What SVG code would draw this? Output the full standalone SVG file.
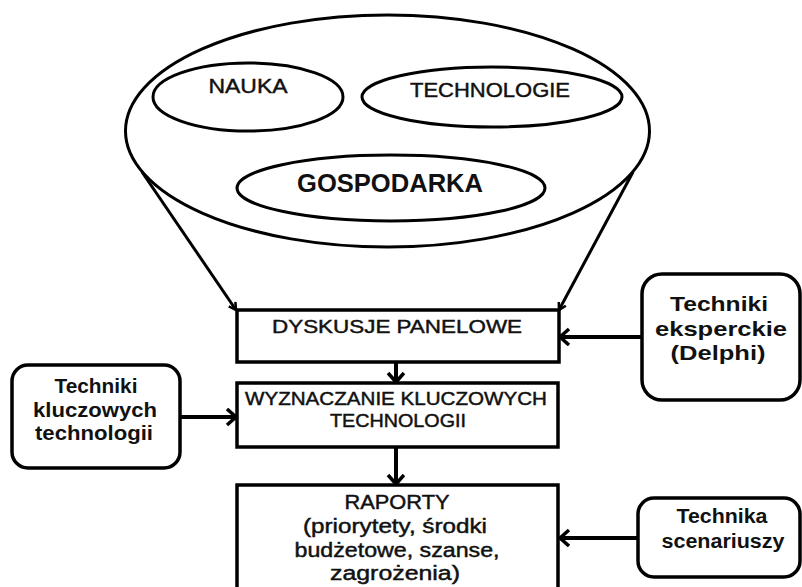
<svg xmlns="http://www.w3.org/2000/svg" width="802" height="587" viewBox="0 0 802 587">
<defs>
<style>
.shape{fill:#fff;stroke:#000;stroke-width:3.5}
.ell{fill:#fff;stroke:#000;stroke-width:3}
.t{font-family:"Liberation Sans",Arial,sans-serif;fill:#111;text-anchor:middle}
.r{stroke:#111;stroke-width:0.45}
.b{font-weight:bold}
.conn{stroke:#000;stroke-width:4;fill:none}
.thin{stroke:#000;stroke-width:3;fill:none}
</style>
<marker id="arr" markerUnits="userSpaceOnUse" markerWidth="14" markerHeight="20" refX="11" refY="9" orient="auto" viewBox="0 0 14 20">
<path d="M2,1 L11,9 L2,17" fill="none" stroke="#000" stroke-width="3.5"/>
</marker>
<marker id="sm" markerUnits="userSpaceOnUse" markerWidth="10" markerHeight="10" refX="8" refY="5" orient="auto" viewBox="0 0 10 10">
<path d="M1,1 L8,5 L1,9" fill="none" stroke="#000" stroke-width="2.5"/>
</marker>
</defs>
<rect width="802" height="587" fill="#fff"/>

<g id="obszar">
<ellipse class="ell" cx="387.5" cy="131" rx="262" ry="116"/>
</g>
<g id="nauka">
<ellipse class="ell" cx="248" cy="97" rx="95" ry="34"/>
<text class="t r" x="248" y="93" font-size="21" textLength="79" lengthAdjust="spacingAndGlyphs">NAUKA</text>
</g>
<g id="technologie">
<ellipse class="ell" cx="492" cy="97" rx="130" ry="30"/>
<text class="t r" x="490" y="97" font-size="21" textLength="160" lengthAdjust="spacingAndGlyphs">TECHNOLOGIE</text>
</g>
<g id="gospodarka">
<ellipse class="ell" cx="391" cy="188" rx="154" ry="33"/>
<text class="t b" x="390" y="192" font-size="25" textLength="186" lengthAdjust="spacingAndGlyphs">GOSPODARKA</text>
</g>

<g id="connectors">
<line class="thin" x1="142" y1="172" x2="236" y2="310" marker-end="url(#sm)"/>
<line class="thin" x1="633" y1="172" x2="559" y2="310" marker-end="url(#sm)"/>
<line class="conn" x1="396" y1="362" x2="396" y2="382" marker-end="url(#arr)"/>
<line class="conn" x1="396" y1="447" x2="396" y2="484" marker-end="url(#arr)"/>
<line class="conn" x1="180" y1="417" x2="236" y2="417" marker-end="url(#arr)"/>
<line class="conn" x1="642" y1="337" x2="560" y2="337" marker-end="url(#arr)"/>
<line class="conn" x1="638" y1="538" x2="560" y2="538" marker-end="url(#arr)"/>
</g>

<g id="dyskusje">
<rect class="shape" x="237" y="310" width="322" height="52"/>
<text class="t r" x="397" y="333" font-size="19" textLength="250" lengthAdjust="spacingAndGlyphs">DYSKUSJE PANELOWE</text>
</g>
<g id="wyznaczanie">
<rect class="shape" x="237" y="383" width="321" height="64"/>
<text class="t r" x="396" y="405" font-size="18" textLength="302" lengthAdjust="spacingAndGlyphs">WYZNACZANIE KLUCZOWYCH</text>
<text class="t r" x="398" y="427" font-size="18" textLength="136" lengthAdjust="spacingAndGlyphs">TECHNOLOGII</text>
</g>
<g id="raporty">
<rect class="shape" x="237" y="485" width="321" height="110"/>
<text class="t r" x="397" y="509" font-size="20" textLength="105" lengthAdjust="spacingAndGlyphs">RAPORTY</text>
<text class="t r" x="395" y="533" font-size="20" textLength="184" lengthAdjust="spacingAndGlyphs">(priorytety, środki</text>
<text class="t r" x="397" y="557" font-size="20" textLength="205" lengthAdjust="spacingAndGlyphs">budżetowe, szanse,</text>
<text class="t r" x="395" y="580" font-size="20" textLength="130" lengthAdjust="spacingAndGlyphs">zagrożenia)</text>
</g>
<g id="techniki-kluczowych">
<rect class="shape" x="12" y="365" width="168" height="103" rx="16"/>
<text class="t b" x="96" y="393" font-size="20" textLength="83" lengthAdjust="spacingAndGlyphs">Techniki</text>
<text class="t b" x="95" y="417" font-size="20" textLength="124" lengthAdjust="spacingAndGlyphs">kluczowych</text>
<text class="t b" x="94" y="440" font-size="20" textLength="118" lengthAdjust="spacingAndGlyphs">technologii</text>
</g>
<g id="techniki-eksperckie">
<rect class="shape" x="642" y="274" width="158" height="126" rx="20"/>
<text class="t b" x="719" y="311" font-size="21" textLength="98" lengthAdjust="spacingAndGlyphs">Techniki</text>
<text class="t b" x="721" y="335.5" font-size="21" textLength="132" lengthAdjust="spacingAndGlyphs">eksperckie</text>
<text class="t b" x="718" y="360" font-size="21" textLength="95" lengthAdjust="spacingAndGlyphs">(Delphi)</text>
</g>
<g id="technika-scenariuszy">
<rect class="shape" x="638" y="498" width="162" height="79" rx="16"/>
<text class="t b" x="722" y="523" font-size="20" textLength="91" lengthAdjust="spacingAndGlyphs">Technika</text>
<text class="t b" x="723" y="548" font-size="20" textLength="123" lengthAdjust="spacingAndGlyphs">scenariuszy</text>
</g>
</svg>
